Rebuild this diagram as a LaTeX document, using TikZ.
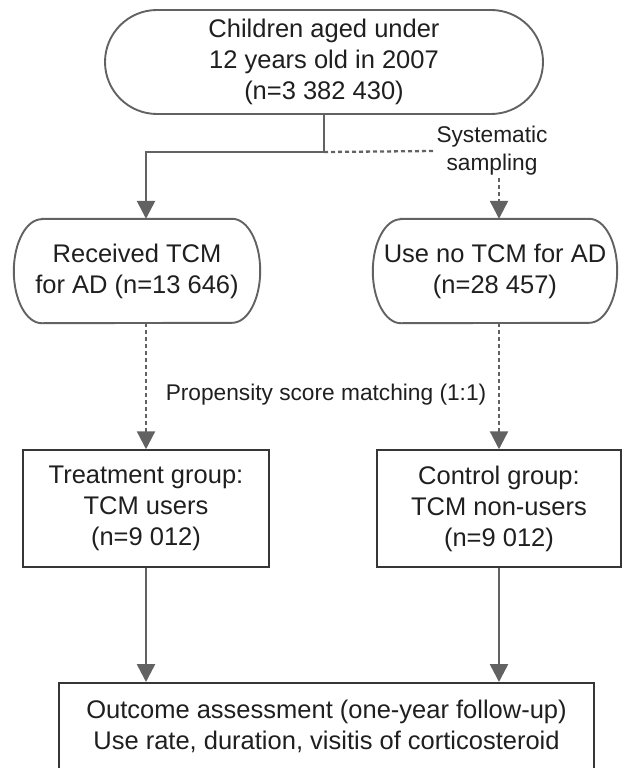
\documentclass[tikz,border=0pt]{standalone}
\usepackage{fontspec}
\setmainfont{Liberation Sans}
\usetikzlibrary{
  arrows.meta,
  positioning,
  calc
}
\definecolor{linegray}{HTML}{626262}
\definecolor{boxgray}{HTML}{363636}
% capsule outline with flat elliptic ends
\newcommand{\capsule}[1]{%
  \draw[draw=linegray, line width=1.9pt] ([xshift=28pt]#1.north west) -- ([xshift=-28pt]#1.north east)
    arc[start angle=90, end angle=-90, x radius=28pt, y radius=52pt]
    -- ([xshift=28pt]#1.south west)
    arc[start angle=270, end angle=90, x radius=28pt, y radius=52pt] -- cycle;}

\begin{document}
\begin{tikzpicture}[
  x=1pt, y=1pt,
  every node/.style={font=\fontsize{25.5}{31}\selectfont, text=black!88},
  blk/.style={draw=boxgray, line width=1.5pt, align=center, inner sep=0pt},
  capblk/.style={align=center, inner sep=0pt, minimum height=104pt},
  lbl/.style={align=center, inner sep=2pt, font=\fontsize{22.7}{28}\selectfont},
  ar/.style={draw=linegray, line width=2.6pt, -{Triangle[length=18pt, width=18pt]}},
  dar/.style={ar, line width=2.3pt, dash pattern=on 4pt off 3pt}
]
  \useasboundingbox (0,0) rectangle (622,-768);
  \clip (0,0) rectangle (622,-768);

  % top cohort
  \node[blk, draw=linegray, line width=1.9pt, rounded corners=52pt, minimum width=438pt, minimum height=104pt] (cohort) at (324,-62) {Children aged under\\12 years old in 2007\\(n=3 382 430)};
  \coordinate (split) at (324,-152);
  \node[lbl] (sampling) at (492,-151) {Systematic\\sampling};

  % middle groups
  \node[capblk, minimum width=246pt] (tcm) at (137,-271) {Received TCM\\for AD (n=13 646)};
  \node[capblk, minimum width=244pt] (notcm) at (495,-271) {Use no TCM for AD\\(n=28 457)};
  \capsule{tcm}
  \capsule{notcm}
  \node[lbl] (psm) at (326,-395) {Propensity score matching (1:1)};

  % matched groups
  \node[blk, minimum width=246pt, minimum height=117pt] (treat) at (146,-508.5) {Treatment group:\\TCM users\\(n=9 012)};
  \node[blk, minimum width=244pt, minimum height=117pt] (ctrl) at (499,-508.5) {Control group:\\TCM non-users\\(n=9 012)};

  % outcome
  \node[blk, anchor=north, minimum width=535pt, minimum height=88pt] (outcome) at (326.5,-682) {Outcome assessment (one-year follow-up)\\Use rate, duration, visitis of corticosteroid};

  \draw[draw=linegray, line width=2.6pt] (cohort.south) -- (split);
  \draw[ar] (split) -| (tcm.north -| treat.north);
  \draw[draw=linegray, line width=2.3pt, dash pattern=on 4pt off 3pt] (split) -- (sampling.west);
  \draw[dar] (sampling.south -| ctrl.north) -- (notcm.north -| ctrl.north);
  \draw[dar] (tcm.south -| treat.north) -- (treat.north);
  \draw[dar] (notcm.south -| ctrl.north) -- (ctrl.north);
  \draw[ar] (treat) -- (treat.south |- outcome.north);
  \draw[ar] (ctrl) -- (ctrl.south |- outcome.north);

\end{tikzpicture}
\end{document}
